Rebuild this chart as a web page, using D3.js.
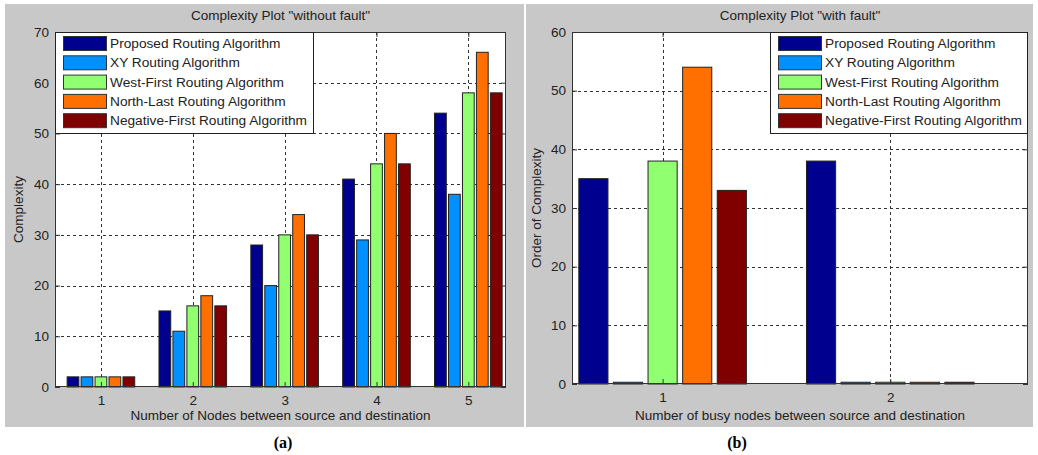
<!DOCTYPE html>
<html><head><meta charset="utf-8">
<script src="https://cdn.jsdelivr.net/npm/d3@7"></script>
<style>body{margin:0;background:#fff}svg{display:block}</style>
</head><body><svg id="c" width="1038" height="455" font-family="Liberation Sans, Arial, sans-serif"></svg>
<script>
const seriesNames = ["Proposed Routing Algorithm","XY Routing Algorithm","West-First Routing Algorithm","North-Last Routing Algorithm","Negative-First Routing Algorithm"];
const seriesColors = ["#00008f","#0090ff","#90ff70","#ff7000","#800000"];
const catsA = [1,2,3,4,5];
const proposedA = [2,15,28,41,54];
const xyA = [2,11,20,29,38];
const westFirstA = [2,16,30,44,58];
const northLastA = [2,18,34,50,66];
const negFirstA = [2,16,30,44,58];
const yTicksA = [0,10,20,30,40,50,60,70];
const catsB = [1,2];
const proposedB = [35,38];
const xyB = [0.3,0.3];
const westFirstB = [38,0.3];
const northLastB = [54,0.3];
const negFirstB = [33,0.3];
const yTicksB = [0,10,20,30,40,50,60];

const svg = d3.select("#c");

function panel(o){
  const g = svg.append("g");
  g.append("rect").attr("x",o.px).attr("y",4).attr("width",o.pw).attr("height",423).attr("fill","#c8c8c8");
  const x = d3.scaleLinear().domain(o.xdom).range([o.l,o.r]);
  const y = d3.scaleLinear().domain([0,o.ymax]).range([o.b,32]);
  g.append("rect").attr("x",o.l).attr("y",32).attr("width",o.r-o.l).attr("height",o.b-32).attr("fill","#fff");
  // grid
  const grid = g.append("g").attr("stroke","#333").attr("stroke-dasharray","3,3").attr("stroke-width",1);
  o.yticks.slice(1,-1).forEach(t=>grid.append("line").attr("x1",o.l).attr("x2",o.r).attr("y1",Math.round(y(t))+0.5).attr("y2",Math.round(y(t))+0.5));
  o.cats.forEach(c=>grid.append("line").attr("x1",Math.round(x(c))+0.5).attr("x2",Math.round(x(c))+0.5).attr("y1",32).attr("y2",o.b));
  // bars
  const step = 0.152, bw = 0.128;
  o.series.forEach((vals,si)=>{
    g.append("g").selectAll("rect").data(vals).join("rect")
      .attr("x",(d,i)=>x(o.cats[i]+(si-2)*step - bw/2))
      .attr("width",x(bw)-x(0))
      .attr("y",d=>y(d)).attr("height",d=>y(0)-y(d))
      .attr("fill",seriesColors[si]).attr("stroke","#222").attr("stroke-width",1);
  });
  // axes
  const ax = g.append("g").attr("transform",`translate(0,${o.b})`).call(d3.axisBottom(x).tickValues(o.cats).tickSize(-5).tickPadding(8).tickFormat(d3.format("d")));
  const ay = g.append("g").attr("transform",`translate(${o.l},0)`).call(d3.axisLeft(y).tickValues(o.yticks).tickSize(-5).tickPadding(6));
  const ay2 = g.append("g").attr("transform",`translate(${o.r},0)`).call(d3.axisRight(y).tickValues(o.yticks).tickSize(-5).tickFormat(""));
  const ax2 = g.append("g").attr("transform",`translate(0,32)`).call(d3.axisTop(x).tickValues(o.cats).tickSize(-5).tickFormat(""));
  [ax,ay,ay2,ax2].forEach(a=>{a.attr("font-family",null);a.select(".domain").remove();a.selectAll("line").attr("stroke","#333");a.selectAll("text").attr("font-size",13.5).attr("fill","#222");});
  g.append("rect").attr("x",o.l+0.5).attr("y",32.5).attr("width",o.r-o.l-1).attr("height",o.b-32-1).attr("fill","none").attr("stroke","#333");
  // titles
  g.append("text").attr("x",(o.l+o.r)/2).attr("y",20).attr("text-anchor","middle").attr("font-size",13.5).attr("fill","#222").text(o.title);
  g.append("text").attr("x",(o.l+o.r)/2).attr("y",420).attr("text-anchor","middle").attr("font-size",13.5).attr("fill","#222").text(o.xlabel);
  g.append("text").attr("transform",`translate(${o.ylx},${(32+o.b)/2}) rotate(-90)`).attr("text-anchor","middle").attr("font-size",13.5).attr("fill","#222").text(o.ylabel);
  svg.append("text").attr("x",o.capx).attr("y",448).attr("text-anchor","middle").attr("font-family","Liberation Serif, Times New Roman, serif").attr("font-weight","bold").attr("font-size",16).attr("fill","#000").text(o.cap);
  // legend
  const lg = g.append("g");
  lg.append("rect").attr("x",o.lgx+0.5).attr("y",32.5).attr("width",o.lgw).attr("height",101).attr("fill","#fff").attr("stroke","#222");
  seriesNames.forEach((n,i)=>{
    const yy = 36+i*19.3;
    lg.append("rect").attr("x",o.lgx+8.5).attr("y",yy+0.5).attr("width",43).attr("height",14).attr("fill",seriesColors[i]).attr("stroke","#333");
    lg.append("text").attr("x",o.lgx+55).attr("y",yy+12).attr("font-size",13.7).attr("fill","#222").text(n);
  });
}

panel({px:5,pw:519,l:55,r:506,b:387,xdom:[0.5,5.41],ymax:70,yticks:yTicksA,cats:catsA,
  series:[proposedA,xyA,westFirstA,northLastA,negFirstA],
  title:'Complexity Plot "without fault"',xlabel:"Number of Nodes between source and destination",ylabel:"Complexity",ylx:23,capx:283,cap:"(a)",lgx:55,lgw:258});
panel({px:526,pw:507,l:572,r:1028,b:384,xdom:[0.602,2.605],ymax:60,yticks:yTicksB,cats:catsB,
  series:[proposedB,xyB,westFirstB,northLastB,negFirstB],
  title:'Complexity Plot "with fault"',xlabel:"Number of busy nodes between source and destination",ylabel:"Order of Complexity",ylx:541,capx:737,cap:"(b)",lgx:770,lgw:257});
</script></body></html>
